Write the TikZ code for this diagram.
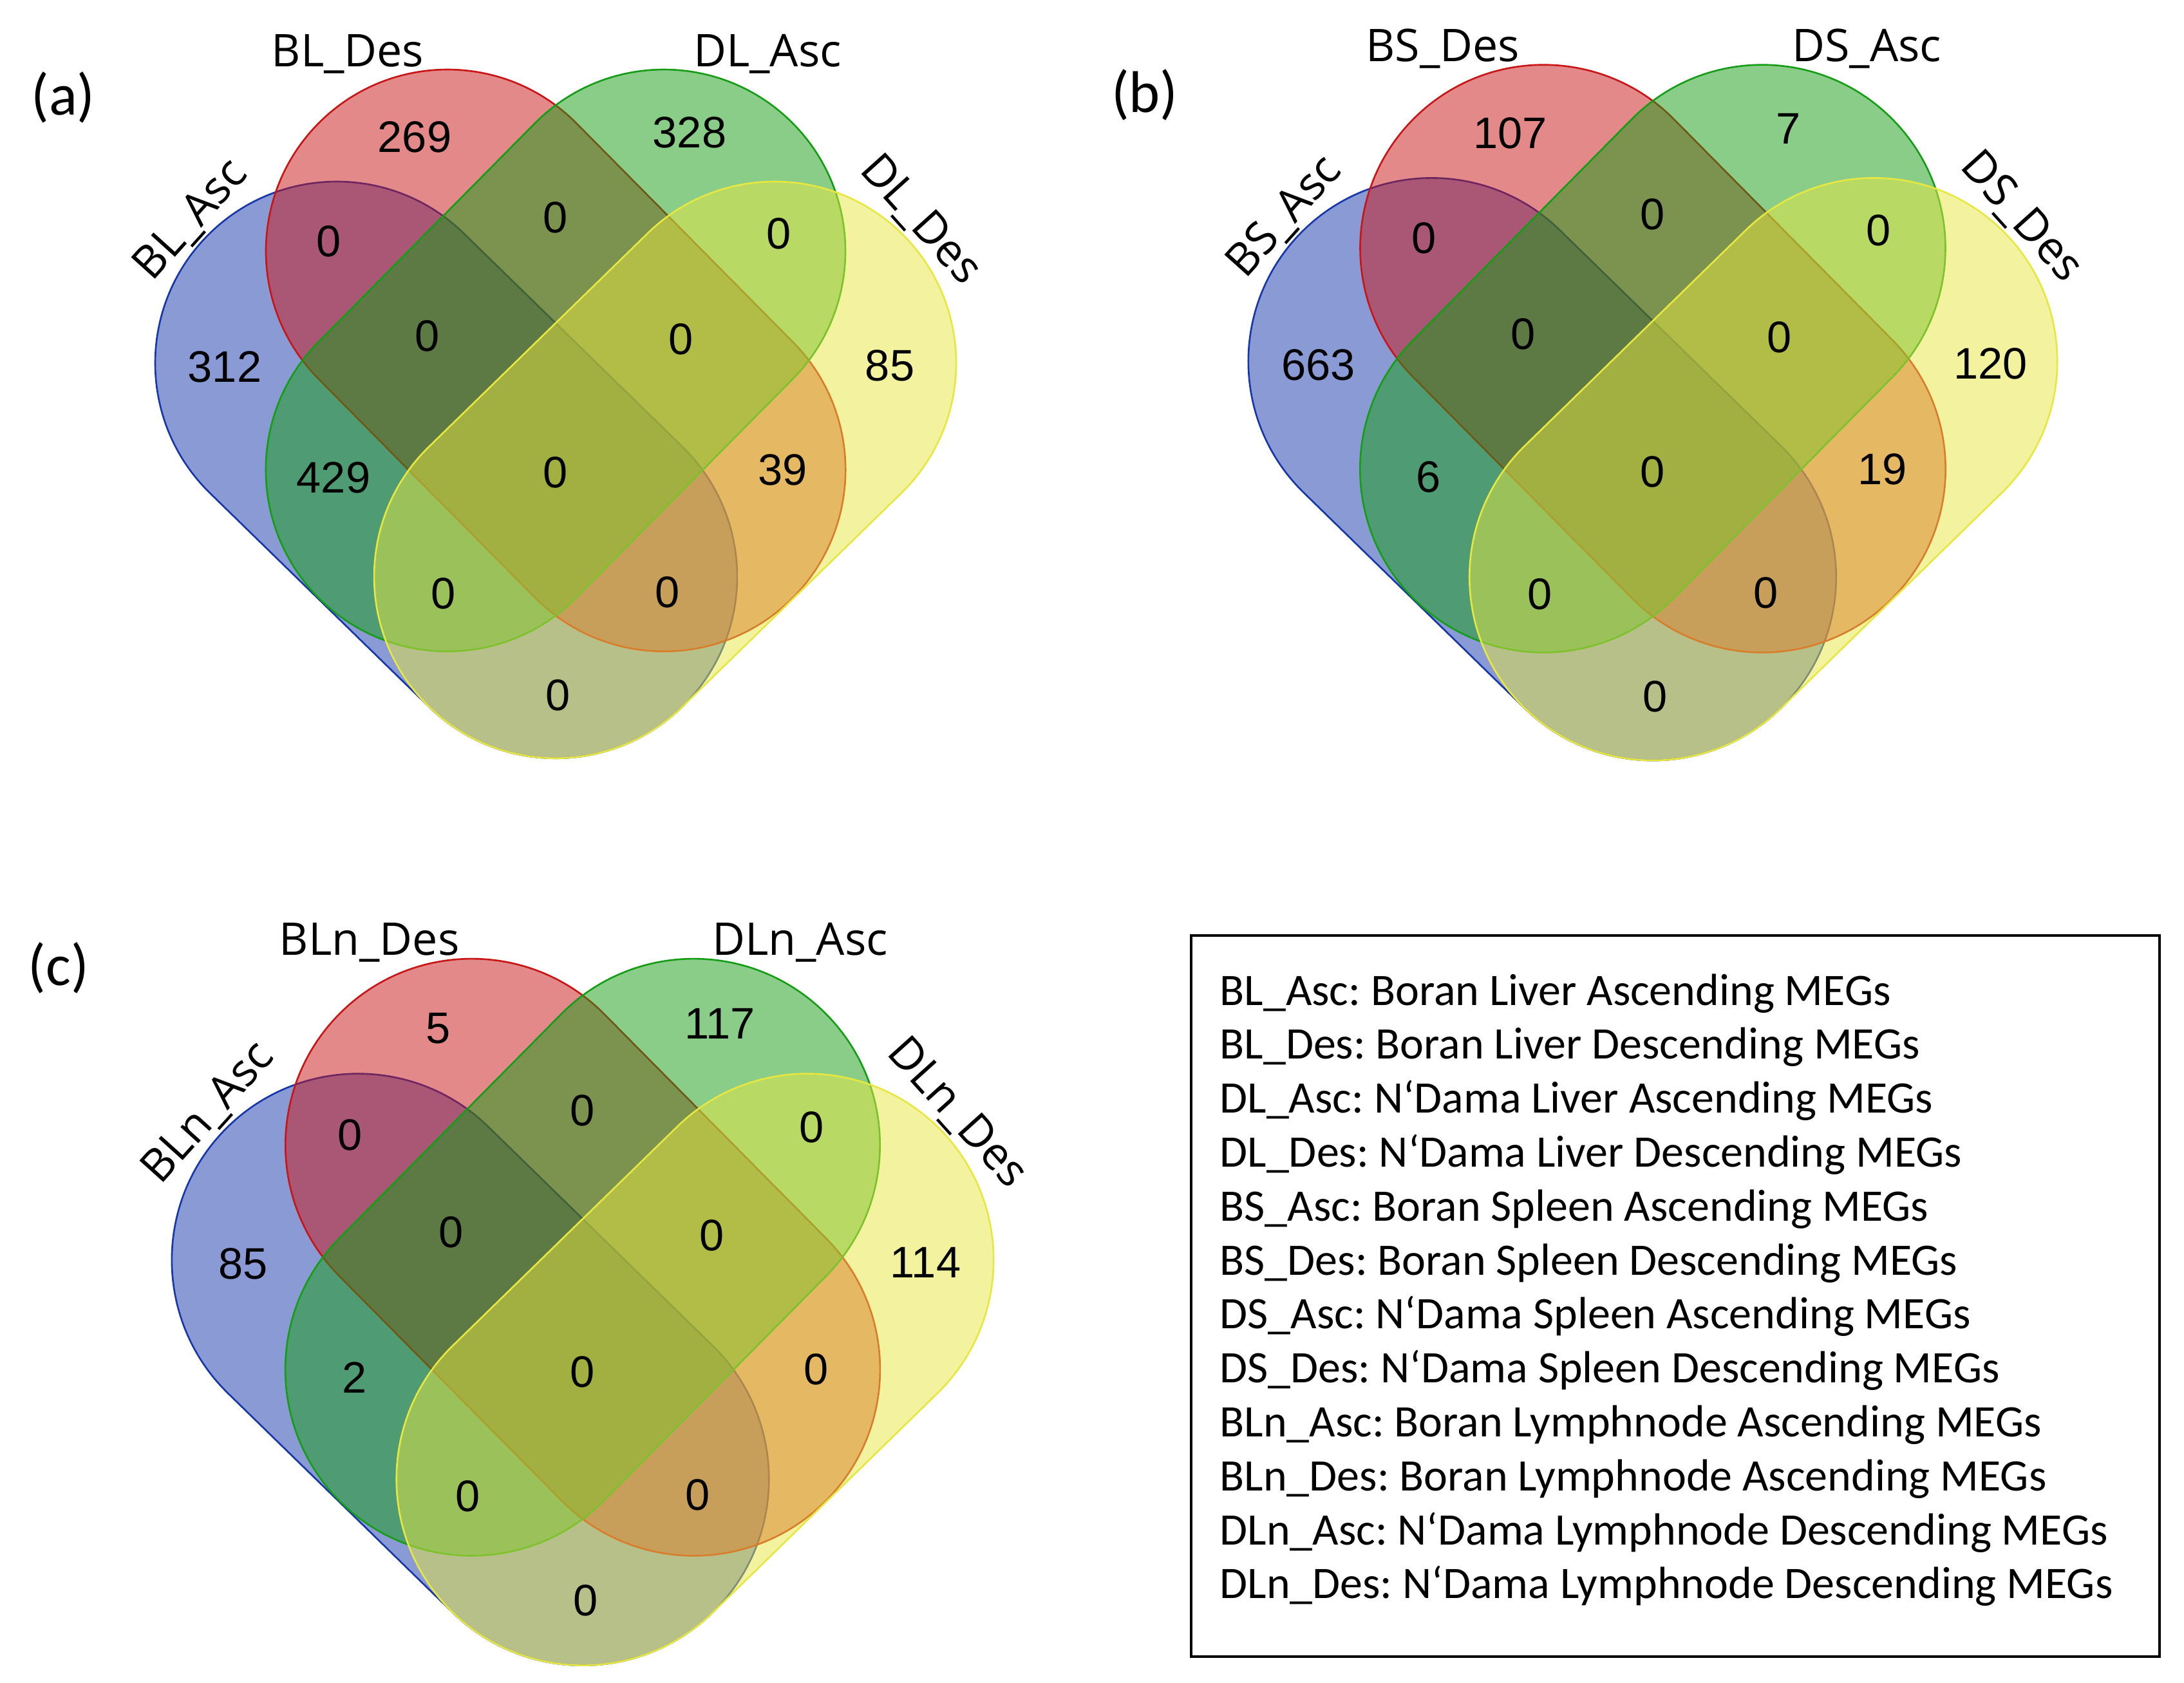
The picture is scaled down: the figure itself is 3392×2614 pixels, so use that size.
\documentclass[tikz,border=0pt]{standalone}
\usepackage{fontspec}
\setmainfont{Liberation Sans}
\newfontfamily\numfont{Liberation Sans}
\newfontfamily\labfont{Open Sans}
\newfontfamily\legfont{Carlito}
\definecolor{cA}{RGB}{21,55,171}
\definecolor{cB}{RGB}{201,21,21}
\definecolor{cC}{RGB}{21,157,21}
\definecolor{cD}{RGB}{231,231,65}
\tikzset{
  setshape/.style={fill=#1, draw=#1, fill opacity=0.5, draw opacity=1, line width=0.75pt},
  num/.style={font=\numfont\fontsize{19.5}{22}\selectfont, inner sep=0pt, text=black},
  setlab/.style={font=\labfont\fontsize{19.9}{24}\selectfont, inner sep=0pt, text=black},
  panlab/.style={font=\legfont\fontsize{26}{30}\selectfont, inner sep=0pt, text=black},
  legtext/.style={font=\legfont\fontsize{19.9}{24}\selectfont\frenchspacing, inner sep=0pt, anchor=base west, text=black},
  legbox/.style={draw=black, line width=0.9pt}
}
% capsule: colour, x, y of first cap centre, angle, length
\newcommand{\vcapsule}[5]{%
  \begin{scope}[shift={(#2,#3)}, rotate=#4]
    \filldraw[setshape=#1] (0,-282) -- (#5,-282) arc[start angle=-90, end angle=90, radius=282]
      -- (0,282) arc[start angle=90, end angle=270, radius=282] -- cycle;
  \end{scope}}
\newcommand{\vennshapes}{%
  \vcapsule{cA}{-340}{79}{-44.3}{475}
  \vcapsule{cB}{-168}{253}{-45.3}{478}
  \vcapsule{cC}{168}{253}{-134.7}{478}
  \vcapsule{cD}{340}{79}{-135.7}{475}}
% prefix, A, B, C, D, AC, BD
\newcommand{\vennnums}[7]{%
  \node[num] (#1-A) at (-514,73) {#2};
  \node[num] (#1-B) at (-219,430) {#3};
  \node[num] (#1-C) at (208,437) {#4};
  \node[num] (#1-D) at (519,75) {#5};
  \node[num] (#1-AB) at (-352,268) {0};
  \node[num] (#1-BC) at (0,305) {0};
  \node[num] (#1-CD) at (347,280) {0};
  \node[num] (#1-ABC) at (-199,121) {0};
  \node[num] (#1-BCD) at (195,116) {0};
  \node[num] (#1-AC) at (-345,-99) {#6};
  \node[num] (#1-ABCD) at (0,-91) {0};
  \node[num] (#1-BD) at (353,-87) {#7};
  \node[num] (#1-ACD) at (-174,-279) {0};
  \node[num] (#1-ABD) at (174,-277) {0};
  \node[num] (#1-AD) at (4,-437) {0};}
% prefix, A, B, C, D labels
\newcommand{\vennlabels}[5]{%
  \node[setlab, anchor=base] (#1-lB) at (-323,540) {#3};
  \node[setlab, anchor=base] (#1-lC) at (329,540) {#4};
  \node[setlab, rotate=48] (#1-lA) at (-566,301) {#2};
  \node[setlab, rotate=-48] (#1-lD) at (566,301) {#5};}

\begin{document}
\begin{tikzpicture}[x=0.01cm, y=0.01cm]
\useasboundingbox (0,0) rectangle (3392,-2614);
\fill[white] (0,0) rectangle (3392,-2614);

% panel (a)
\begin{scope}[shift={(863,-643)}]
  \vennshapes
  \vennnums{a}{312}{269}{328}{85}{429}{39}
  \vennlabels{a}{BL\_Asc}{BL\_Des}{DL\_Asc}{DL\_Des}
\end{scope}
\node[panlab] (pa) at (98,-151) {(a)};

% panel (b)
\begin{scope}[shift={(2567,-641)}, scale=1.01]
  \vennshapes
  \vennnums{b}{663}{107}{7}{120}{6}{19}
  \vennlabels{b}{BS\_Asc}{BS\_Des}{DS\_Asc}{DS\_Des}
\end{scope}
\node[panlab] (pb) at (1778,-147) {(b)};

% panel (c)
\begin{scope}[shift={(905,-2038)}, scale=1.026]
  \vennshapes
  \vennnums{c}{85}{5}{117}{114}{2}{0}
  \vennlabels{c}{BLn\_Asc}{BLn\_Des}{DLn\_Asc}{DLn\_Des}
\end{scope}
\node[panlab] (pc) at (91,-1503) {(c)};

% legend
\draw[legbox] (1850,-1453) rectangle (3354,-2573);
\node[legtext] (l1) at (1894,-1561) {BL\_Asc: Boran Liver Ascending MEGs};
\node[legtext] (l2) at (1894,-1644.8) {BL\_Des: Boran Liver Descending MEGs};
\node[legtext] (l3) at (1894,-1728.6) {DL\_Asc: N‘Dama Liver Ascending MEGs};
\node[legtext] (l4) at (1894,-1812.4) {DL\_Des: N‘Dama Liver Descending MEGs};
\node[legtext] (l5) at (1894,-1896.2) {BS\_Asc: Boran Spleen Ascending MEGs};
\node[legtext] (l6) at (1894,-1980) {BS\_Des: Boran Spleen Descending MEGs};
\node[legtext] (l7) at (1894,-2063.8) {DS\_Asc: N‘Dama Spleen Ascending MEGs};
\node[legtext] (l8) at (1894,-2147.6) {DS\_Des: N‘Dama Spleen Descending MEGs};
\node[legtext] (l9) at (1894,-2231.4) {BLn\_Asc: Boran Lymphnode Ascending MEGs};
\node[legtext] (l10) at (1894,-2315.2) {BLn\_Des: Boran Lymphnode Ascending MEGs};
\node[legtext] (l11) at (1894,-2399) {DLn\_Asc: N‘Dama Lymphnode Descending MEGs};
\node[legtext] (l12) at (1894,-2482.8) {DLn\_Des: N‘Dama Lymphnode Descending MEGs};
\end{tikzpicture}
\end{document}
